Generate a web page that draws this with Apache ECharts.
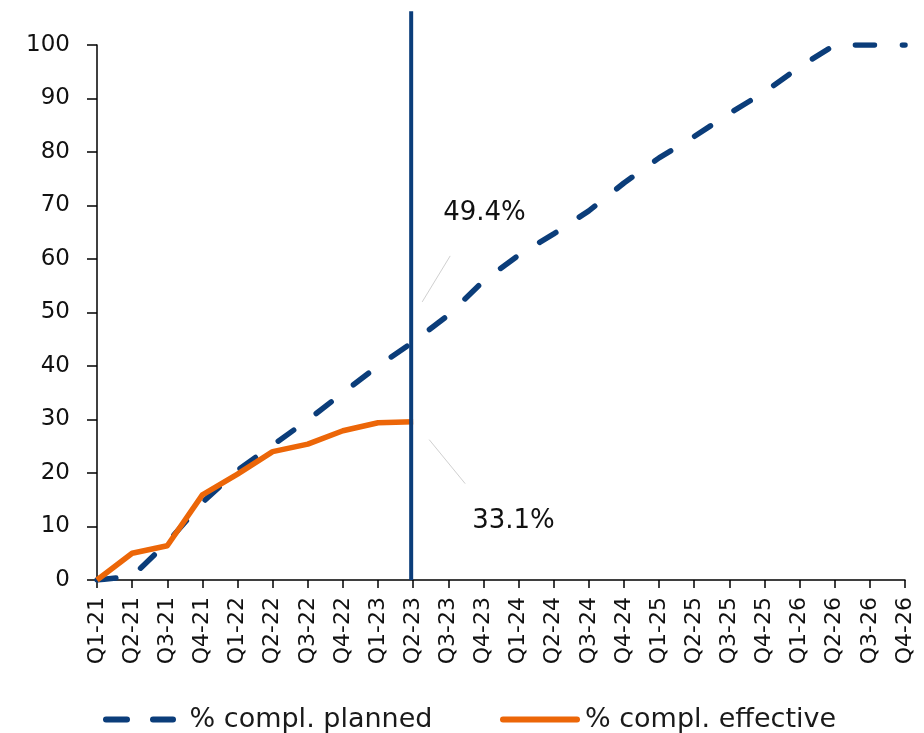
<!DOCTYPE html>
<html>
<head>
<meta charset="utf-8">
<script src="https://cdn.jsdelivr.net/npm/echarts@6/dist/echarts.min.js"></script>
<style>
  html, body { margin: 0; padding: 0; background: #ffffff; }
  #chart { width: 924px; height: 733px; }
</style>
</head>
<body>
<div id="chart"></div>
<script>
// Quarterly completion progress (%)
const quarters = [
  'Q1-21','Q2-21','Q3-21','Q4-21','Q1-22','Q2-22','Q3-22','Q4-22',
  'Q1-23','Q2-23','Q3-23','Q4-23','Q1-24','Q2-24','Q3-24','Q4-24',
  'Q1-25','Q2-25','Q3-25','Q4-25','Q1-26','Q2-26','Q3-26','Q4-26'
];
const plannedPct = [
  0, 0.7, 7, 14.5, 20.5, 25.2, 29.9, 35.0,
  40.0, 44.5, 49.5, 55.9, 60.7, 64.7, 69.0, 74.2,
  78.9, 82.9, 87.2, 91.2, 95.9, 100, 100, 100
];
const effectivePct = [
  0, 5.0, 6.4, 15.9, 19.8, 24.0, 25.4, 27.9,
  29.4, 29.6, null, null, null, null, null, null,
  null, null, null, null, null, null, null, null
];
const yTicks = [0, 10, 20, 30, 40, 50, 60, 70, 80, 90, 100];
const cutoffQuarter = 'Q2-23';
const plannedNote = '49.4%';
const effectiveNote = '33.1%';

const NAVY = '#0b3d7a';
const ORANGE = '#ec6608';
const FONT = 'DejaVu Sans';

// Legend keys: two rounded dashes, and one rounded bar
const DASH_ICON = 'path://M3,0h21a3,3 0 0 1 0,6h-21a3,3 0 0 1 0,-6z' +
                  'M50,0h20a3,3 0 0 1 0,6h-20a3,3 0 0 1 0,-6z';
const BAR_ICON = 'path://M3,0h74a3,3 0 0 1 0,6h-74a3,3 0 0 1 0,-6z';

const chart = echarts.init(document.getElementById('chart'), null, { renderer: 'canvas' });

const legendText = { fontFamily: FONT, fontSize: 27, color: '#1a1a1a' };

chart.setOption({
  animation: false,
  backgroundColor: '#ffffff',
  textStyle: { fontFamily: FONT, color: '#000' },
  grid: { left: 97, right: 19, top: 45, bottom: 153, containLabel: false },
  legend: [
    {
      top: 701, left: 98,
      itemWidth: 73, itemHeight: 6,
      formatter: ' {name}',
      textStyle: legendText,
      data: [{ name: '% compl. planned', icon: DASH_ICON }]
    },
    {
      top: 701, left: 495,
      itemWidth: 80, itemHeight: 6,
      textStyle: legendText,
      data: [{ name: '% compl. effective', icon: BAR_ICON }]
    }
  ],
  xAxis: {
    type: 'category',
    data: quarters,
    boundaryGap: false,
    axisLine: { lineStyle: { color: '#000', width: 1.5 } },
    axisTick: { show: true, interval: 0, length: 8, lineStyle: { color: '#000', width: 1.5 } },
    axisLabel: {
      interval: 0, rotate: 90, margin: 17,
      fontFamily: FONT, fontSize: 22, color: '#111'
    },
    splitLine: { show: false }
  },
  yAxis: {
    type: 'value',
    min: yTicks[0],
    max: yTicks[yTicks.length - 1],
    interval: 10,
    axisLine: { show: true, lineStyle: { color: '#000', width: 1.5 } },
    axisTick: { show: true, length: 10, lineStyle: { color: '#000', width: 1.5 } },
    axisLabel: { margin: 27, fontFamily: FONT, fontSize: 23, color: '#111' },
    splitLine: { show: false }
  },
  series: [
    {
      name: '% compl. planned',
      type: 'line',
      data: plannedPct,
      showSymbol: false,
      symbol: 'none',
      color: NAVY,
      lineStyle: { color: NAVY, width: 5.5, type: [19, 28], cap: 'round', join: 'round' },
      z: 3
    },
    {
      name: '% compl. effective',
      type: 'line',
      data: effectivePct,
      showSymbol: false,
      symbol: 'none',
      color: ORANGE,
      lineStyle: { color: ORANGE, width: 5.5, cap: 'butt', join: 'round' },
      z: 4
    }
  ]
});

// Cut-off marker and the two callouts, anchored to the data coordinates
function drawOverlay() {
  const idx = quarters.indexOf(cutoffQuarter);
  const x = chart.convertToPixel({ xAxisIndex: 0 }, cutoffQuarter);
  const yBase = chart.convertToPixel({ yAxisIndex: 0 }, 0);
  const yTop = chart.convertToPixel({ yAxisIndex: 0 }, 106.3);
  const pP = chart.convertToPixel({ gridIndex: 0 }, [idx, plannedPct[idx]]);
  const pE = chart.convertToPixel({ gridIndex: 0 }, [idx, effectivePct[idx]]);

  chart.setOption({
    graphic: [
      {
        type: 'line', z: 10,
        shape: { x1: x - 2, y1: yTop, x2: x - 2, y2: yBase },
        style: { stroke: NAVY, lineWidth: 4 }
      },
      {
        type: 'line', z: 9,
        shape: { x1: pP[0] + 9, y1: pP[1] - 40, x2: pP[0] + 37, y2: pP[1] - 86 },
        style: { stroke: '#d0d0d0', lineWidth: 1 }
      },
      {
        type: 'text', z: 9,
        x: pP[0] + 30, y: pP[1] - 129,
        style: { text: plannedNote, font: '26px "' + FONT + '"', fill: '#111', verticalAlign: 'middle', align: 'left' }
      },
      {
        type: 'line', z: 9,
        shape: { x1: pE[0] + 16, y1: pE[1] + 18, x2: pE[0] + 52, y2: pE[1] + 62 },
        style: { stroke: '#d0d0d0', lineWidth: 1 }
      },
      {
        type: 'text', z: 9,
        x: pE[0] + 59, y: pE[1] + 100,
        style: { text: effectiveNote, font: '26px "' + FONT + '"', fill: '#111', verticalAlign: 'middle', align: 'left' }
      }
    ]
  });
}
drawOverlay();
</script>
</body>
</html>
